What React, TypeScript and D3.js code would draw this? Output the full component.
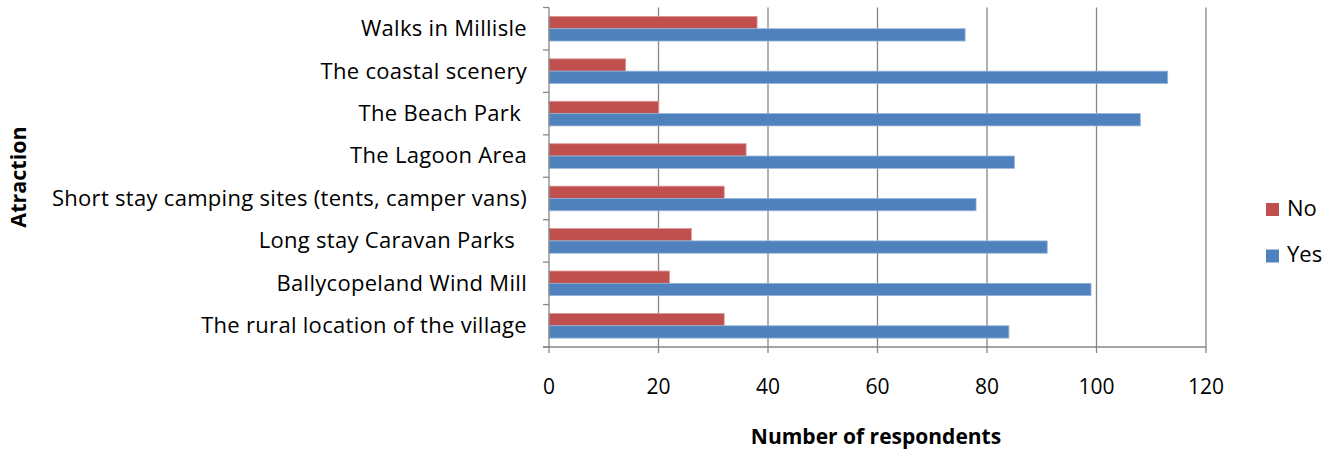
import React from "react";
import * as d3 from "d3";

const categories = [
  "Walks in Millisle",
  "The coastal scenery",
  "The Beach Park ",
  "The Lagoon Area",
  "Short stay camping sites (tents, camper vans)",
  "Long stay Caravan Parks  ",
  "Ballycopeland Wind Mill",
  "The rural location of the village",
];
const seriesNames = ["No", "Yes"];
const noValues = [38, 14, 20, 36, 32, 26, 22, 32];
const yesValues = [76, 113, 108, 85, 78, 91, 99, 84];
const xTicks = [0, 20, 40, 60, 80, 100, 120];
const colors = ["#C0504D", "#4F81BD"];

const W = 1336;
const H = 454;
const left = 549;
const right = 1206;
const top = 7.5;
const bottom = 347;
const font = "'Open Sans', sans-serif";

export default function App() {
  const x = d3.scaleLinear().domain([0, 120]).range([left, right]);
  const y = d3
    .scaleBand<string>()
    .domain(categories)
    .range([top, bottom])
    .paddingInner(0.42)
    .paddingOuter(0.21);
  const sub = d3.scaleBand<string>().domain(seriesNames).range([0, y.bandwidth()]);
  const series = [noValues, yesValues];
  const step = y.step();
  const boundaries = d3.range(categories.length + 1).map((i) => top + i * step);

  return (
    <svg
      width={W}
      height={H}
      style={{ position: "absolute", left: 0, top: 0, background: "#fff" }}
    >
      {xTicks.slice(1).map((t) => (
        <line key={"g" + t} x1={x(t)} x2={x(t)} y1={top} y2={bottom} stroke="#868686" strokeWidth={1.3} />
      ))}
      {categories.map((c, i) => (
        <g key={c}>
          {seriesNames.map((s, j) => (
            <rect
              key={s}
              x={x(0)}
              y={(y(c) as number) + (sub(s) as number)}
              width={x(series[j][i]) - x(0)}
              height={sub.bandwidth()}
              fill={colors[j]}
              stroke={j === 0 ? "#D99694" : "#95B3D7"}
              strokeWidth={0.8}
            />
          ))}
        </g>
      ))}
      <line x1={x(0)} x2={x(0)} y1={top} y2={bottom} stroke="#868686" strokeWidth={1.3} />
      {boundaries.map((b, i) => (
        <line key={"yt" + i} x1={x(0) - 6} x2={x(0)} y1={b} y2={b} stroke="#868686" strokeWidth={1.3} />
      ))}
      <line x1={x(0) - 6} x2={x(120)} y1={bottom} y2={bottom} stroke="#868686" strokeWidth={1.3} />
      {xTicks.map((t) => (
        <line key={"xt" + t} x1={x(t)} x2={x(t)} y1={bottom} y2={bottom + 6} stroke="#868686" strokeWidth={1.3} />
      ))}
      {xTicks.map((t) => (
        <text
          key={"xl" + t}
          x={x(t)}
          y={388}
          textAnchor="middle"
          dominantBaseline="middle"
          fontFamily={font}
          fontSize={21}
          fill="#000"
        >
          {t}
        </text>
      ))}
      {categories.map((c) => (
        <text
          key={"cl" + c}
          x={527}
          y={(y(c) as number) + y.bandwidth() / 2 + 1.5}
          textAnchor="end"
          dominantBaseline="middle"
          fontFamily={font}
          fontSize={22}
          letterSpacing={0.3}
          fill="#000"
          style={{ whiteSpace: "pre" }}
        >
          {c}
        </text>
      ))}
      <text
        x={876}
        y={438}
        textAnchor="middle"
        dominantBaseline="middle"
        fontFamily={font}
        fontSize={21}
        fontWeight="bold"
      >
        Number of respondents
      </text>
      <text
        transform="translate(20,177) rotate(-90)"
        textAnchor="middle"
        dominantBaseline="middle"
        fontFamily={font}
        fontSize={21.5}
        fontWeight="bold"
      >
        Atraction
      </text>
      {seriesNames.map((s, j) => (
        <g key={"lg" + s} transform={`translate(1266, ${203 + j * 46.5})`}>
          <rect width={13} height={13} fill={colors[j]} />
          <text x={21} y={7} dominantBaseline="middle" fontFamily={font} fontSize={22} fill="#000">
            {s}
          </text>
        </g>
      ))}
    </svg>
  );
}
